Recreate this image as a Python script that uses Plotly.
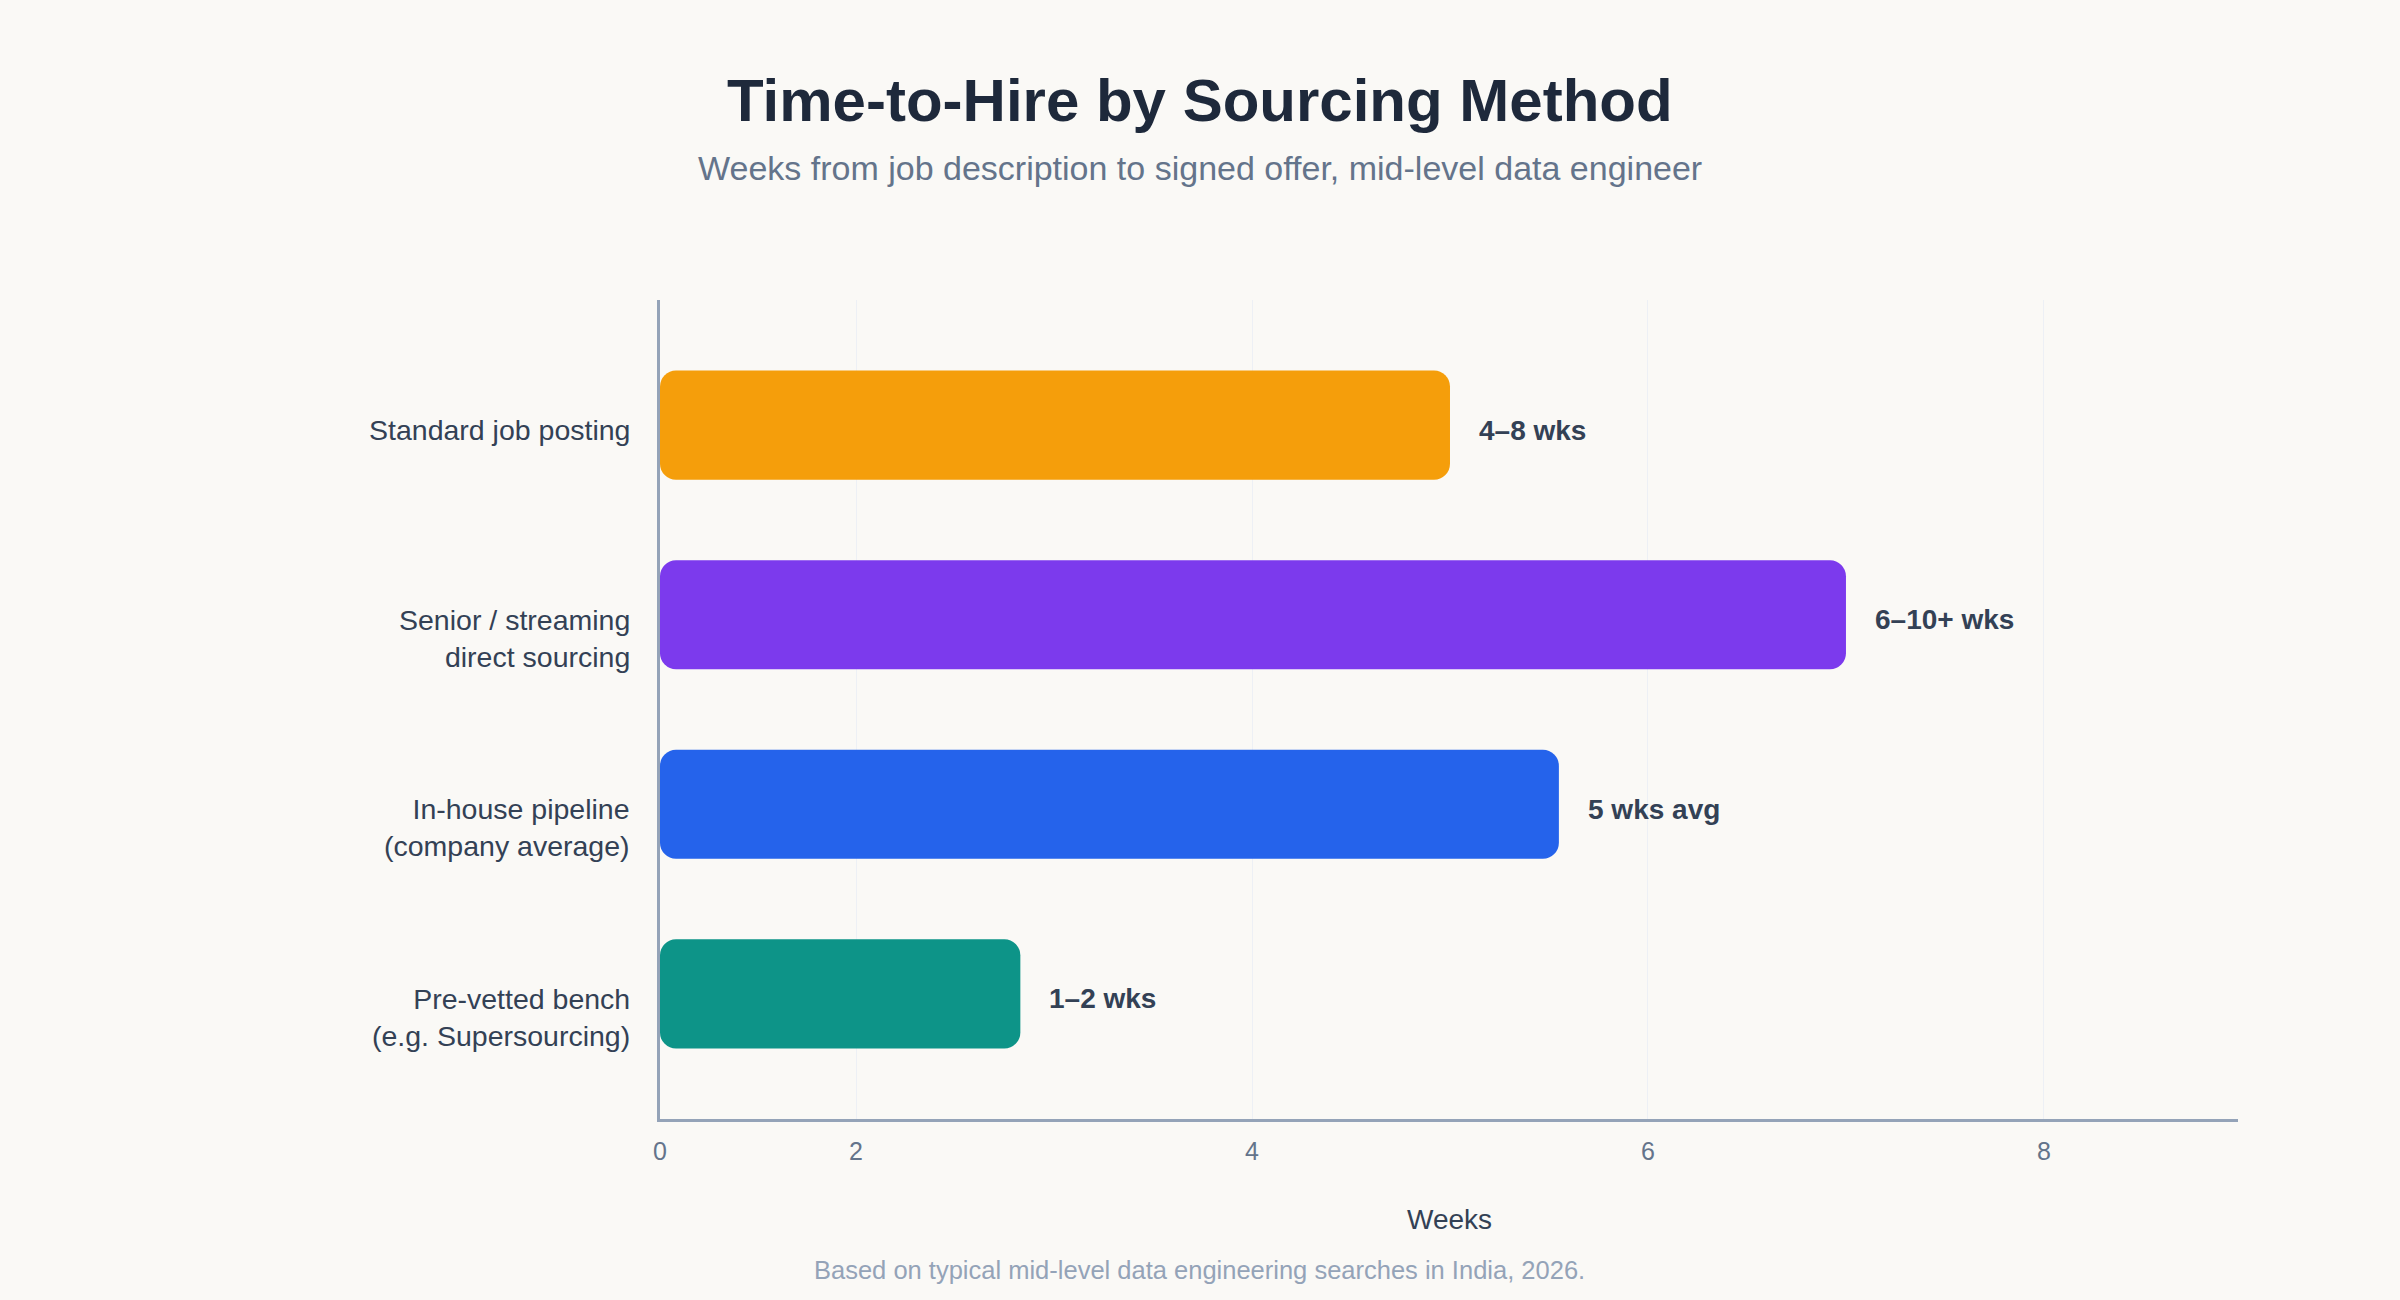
import plotly.graph_objects as go

categories = [
    "Standard job posting",
    "Senior / streaming<br>direct sourcing",
    "In-house pipeline<br>(company average)",
    "Pre-vetted bench<br>(e.g. Supersourcing)",
]
weeks = [5.0, 7.0, 5.55, 2.83]
bar_labels = ["4–8 wks", "6–10+ wks", "5 wks avg", "1–2 wks"]
colors = ["#f59e0b", "#7c3aed", "#2563eb", "#0d9488"]
axis_start = 1.01
axis_end = 8.98
tick_vals = [axis_start, 2, 4, 6, 8]
tick_text = ["0", "2", "4", "6", "8"]

FONT = "Liberation Sans, Arial, Helvetica, sans-serif"
BG = "#faf9f6"

fig = go.Figure()
fig.add_trace(go.Bar(
    y=categories,
    base=[axis_start] * len(weeks),
    x=[w - axis_start for w in weeks],
    orientation="h",
    marker=dict(color=colors, line=dict(width=0), cornerradius=16),
    width=0.575,
    hoverinfo="skip",
    showlegend=False,
))

# category labels (drawn as annotations so the first line sits at the bar centre)
for c in categories:
    fig.add_annotation(
        x=0, y=c, xref="paper", yref="y", text=c,
        showarrow=False, xanchor="right", yanchor="top", align="right",
        xshift=-28, yshift=13,
        font=dict(family=FONT, size=28.5, color="#334155"),
    )

for c, w, lab in zip(categories, weeks, bar_labels):
    fig.add_annotation(
        x=w, y=c, xref="x", yref="y", text=f"<b>{lab}</b>",
        showarrow=False, xanchor="left", yanchor="middle", xshift=27, yshift=-5,
        font=dict(family=FONT, size=28, color="#334155"),
    )

page_center = 0.3422
fig.add_annotation(
    x=page_center, y=1.2442, xref="paper", yref="paper",
    text="<b>Time-to-Hire by Sourcing Method</b>", showarrow=False,
    xanchor="center", yanchor="middle",
    font=dict(family=FONT, size=60, color="#1e293b"),
)
fig.add_annotation(
    x=page_center, y=1.1612, xref="paper", yref="paper",
    text="Weeks from job description to signed offer, mid-level data engineer",
    showarrow=False, xanchor="center", yanchor="middle",
    font=dict(family=FONT, size=34, color="#64748b"),
)
fig.add_annotation(
    x=0.5, y=-0.1233, xref="paper", yref="paper",
    text="Weeks", showarrow=False, xanchor="center", yanchor="middle",
    font=dict(family=FONT, size=28, color="#334155"),
)
fig.add_annotation(
    x=page_center, y=-0.1844, xref="paper", yref="paper",
    text="Based on typical mid-level data engineering searches in India, 2026.",
    showarrow=False, xanchor="center", yanchor="middle",
    font=dict(family=FONT, size=25.5, color="#94a3b8"),
)

fig.update_layout(
    width=2400, height=1300,
    margin=dict(l=660, r=162, t=300, b=181, pad=0),
    paper_bgcolor=BG, plot_bgcolor=BG,
    font=dict(family=FONT),
    xaxis=dict(
        range=[axis_start, axis_end], tickvals=tick_vals, ticktext=tick_text,
        showgrid=True, gridcolor="#edf0f5", gridwidth=1,
        showline=True, linecolor="#94a3b8", linewidth=3,
        zeroline=False, ticks="", ticklabelstandoff=8,
        tickfont=dict(family=FONT, size=25, color="#64748b"),
        fixedrange=True,
    ),
    yaxis=dict(
        type="category", categoryorder="array", categoryarray=categories,
        range=[3.66, -0.66], showticklabels=False,
        showgrid=False, showline=True, linecolor="#94a3b8", linewidth=3,
        zeroline=False, ticks="",
        fixedrange=True,
    ),
)

fig.write_html("out.html")
